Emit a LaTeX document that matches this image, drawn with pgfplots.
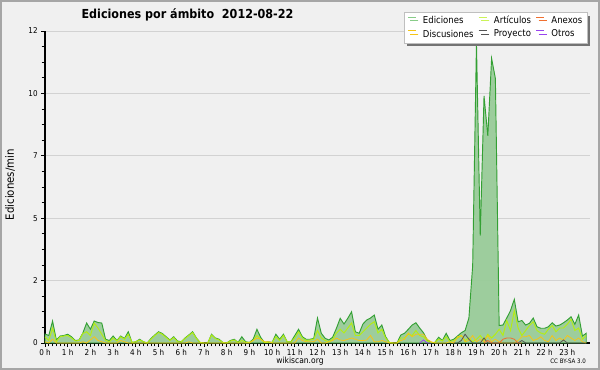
\documentclass[border=0pt]{standalone}
\usepackage{fontspec}
\setmainfont{DejaVu Sans}[FakeStretch=0.9]
\usepackage{pgfplots}
\usepackage{pgfplotstable}
\pgfplotsset{compat=1.18}
\usetikzlibrary{shadows}
\definecolor{bgc}{HTML}{F0F0F0}
\definecolor{edline}{HTML}{33A033}
\definecolor{edfill}{HTML}{99CC99}
\definecolor{edleg}{HTML}{88CC88}
\definecolor{artc}{HTML}{B5EE11}
\definecolor{discc}{HTML}{F5C518}
\definecolor{proyc}{HTML}{555555}
\definecolor{anexc}{HTML}{F07030}
\definecolor{otrosc}{HTML}{9944EE}

\pgfplotstableread{
i ed art
0 0.36 0.25
1 0.30 0.10
2 0.88 0.60
3 0.12 0.05
4 0.28 0.25
5 0.30 0.28
6 0.35 0.30
7 0.25 0.20
8 0.10 0.08
9 0.12 0.10
10 0.40 0.38
11 0.80 0.45
12 0.55 0.30
13 0.88 0.80
14 0.82 0.60
15 0.80 0.35
16 0.15 0.10
17 0.10 0.05
18 0.28 0.20
19 0.10 0.08
20 0.28 0.25
21 0.18 0.15
22 0.45 0.35
23 0.02 0.02
24 0.05 0.05
25 0.15 0.12
26 0.05 0.05
27 0.00 0.00
28 0.18 0.15
29 0.32 0.30
30 0.45 0.42
31 0.38 0.35
32 0.25 0.22
33 0.12 0.10
34 0.25 0.22
35 0.08 0.05
36 0.05 0.05
37 0.20 0.18
38 0.32 0.30
39 0.45 0.42
40 0.20 0.18
41 0.02 0.02
42 0.00 0.00
43 0.00 0.00
44 0.35 0.32
45 0.20 0.18
46 0.15 0.12
47 0.02 0.02
48 0.00 0.00
49 0.10 0.08
50 0.15 0.12
51 0.02 0.02
52 0.25 0.10
53 0.05 0.03
54 0.02 0.02
55 0.15 0.10
56 0.55 0.30
57 0.22 0.15
58 0.02 0.02
59 0.05 0.03
60 0.02 0.02
61 0.35 0.25
62 0.15 0.10
63 0.35 0.30
64 0.05 0.05
65 0.05 0.05
66 0.30 0.20
67 0.55 0.45
68 0.25 0.20
69 0.15 0.10
70 0.15 0.12
71 0.18 0.15
72 1.00 0.50
73 0.39 0.20
74 0.19 0.10
75 0.12 0.05
76 0.23 0.15
77 0.59 0.40
78 0.99 0.55
79 0.76 0.40
80 0.99 0.60
81 1.25 0.80
82 0.45 0.30
83 0.39 0.30
84 0.76 0.45
85 0.92 0.60
86 1.00 0.75
87 1.12 0.85
88 0.55 0.40
89 0.72 0.55
90 0.25 0.20
91 0.02 0.02
92 0.00 0.00
93 0.00 0.00
94 0.32 0.20
95 0.39 0.20
96 0.55 0.35
97 0.72 0.30
98 0.81 0.50
99 0.60 0.30
100 0.41 0.25
101 0.12 0.08
102 0.02 0.02
103 0.02 0.02
104 0.23 0.15
105 0.10 0.08
106 0.39 0.25
107 0.10 0.05
108 0.15 0.10
109 0.28 0.20
110 0.41 0.30
111 0.50 0.10
112 1.00 0.20
113 3.10 0.05
114 12.00 0.15
115 4.30 0.30
116 9.90 0.10
117 8.30 0.35
118 11.40 0.20
119 10.60 0.35
120 0.70 0.55
121 0.72 0.30
122 1.00 0.90
123 1.30 0.50
124 1.75 1.30
125 0.85 0.60
126 0.90 0.30
127 0.72 0.50
128 0.79 0.70
129 1.00 0.85
130 0.65 0.50
131 0.59 0.40
132 0.59 0.35
133 0.65 0.55
134 0.81 0.70
135 0.68 0.45
136 0.72 0.60
137 0.81 0.60
138 0.92 0.75
139 1.05 0.95
140 0.75 0.50
141 1.12 0.60
142 0.28 0.15
143 0.39 0.30
}\mytable

\begin{document}
\begin{tikzpicture}
\fill[bgc] (0,0) rectangle (450pt,277.5pt);
\draw[gray!70, line width=1.2pt] (0.6pt,0.6pt) rectangle (449.4pt,276.9pt);
\begin{axis}[
  at={(33.75pt,20.25pt)}, anchor=south west,
  scale only axis, width=408.75pt, height=234pt,
  xmin=0, xmax=144, ymin=0, ymax=12.5,
  axis x line=bottom, axis y line=left,
  axis line style={-, black, line width=0.8pt},
  xtick={0,6,...,138},
  xticklabels={0 h,1 h,2 h,3 h,4 h,5 h,6 h,7 h,8 h,9 h,10 h,11 h,12 h,13 h,14 h,15 h,16 h,17 h,18 h,19 h,20 h,21 h,22 h,23 h},
  ytick={0,2.5,...,12.5},
  yticklabels={0,2,5,7,10,12},
  minor x tick num=5, minor y tick num=3,
  tick align=outside,
  major tick length=3pt, minor tick length=2.5pt,
  tick style={black, line width=0.6pt},
  ymajorgrids, major grid style={gray!35, line width=0.6pt},
  tick label style={font=\fontsize{6}{7}\selectfont},
  xticklabel style={yshift=1.5pt},
  yticklabel style={xshift=1pt},
  /pgf/number format/assume math mode=true,
  legend columns=3,
  legend style={at={(0.996,1.0609)}, anchor=north east,
    draw=gray!50, fill=white, font=\fontsize{7.1}{8}\selectfont,
    drop shadow={shadow xshift=2pt, shadow yshift=-2.5pt, fill=gray!90!black, opacity=1},
    inner xsep=2pt, inner ysep=1pt, row sep=-1pt,
    /tikz/every even column/.append style={column sep=1.5pt}},
  legend cell align=left,
  legend image code/.code={\draw[#1] (0pt,2.6pt) -- (6pt,2.6pt); \path (9pt,2.6pt);},
  clip=false,
]
\addplot[fill=edfill, fill opacity=0.95, draw=edline, line width=0.7pt, forget plot] table[x=i, y=ed] {\mytable} \closedcycle;
\addplot[artc, line width=0.7pt, forget plot] table[x=i, y=art] {\mytable};
\addplot[discc, line width=0.6pt, forget plot] coordinates {(0,0.05)(1,0)(2,0.15)(3,0)(9,0)(10,0.05)(11,0)(13,0.25)(14,0.1)(15,0.05)(16,0)(19,0)(20,0.1)(21,0.05)(22,0)(37,0)(38,0.05)(39,0)(54,0)(55,0.1)(56,0.2)(57,0.15)(58,0.05)(59,0.05)(60,0)(66,0)(67,0.2)(68,0.1)(69,0.05)(71,0.05)(72,0.15)(73,0)(74,0)(75,0.05)(76,0.1)(77,0.2)(78,0.12)(79,0.1)(81,0.2)(82,0.15)(83,0.1)(84,0.1)(85,0.12)(86,0.3)(87,0.05)(88,0.05)(89,0.1)(90,0.05)(91,0)(93,0)(94,0.1)(95,0.15)(96,0.4)(97,0.25)(98,0.35)(99,0.35)(100,0.35)(101,0.15)(102,0.05)(103,0)(106,0)(107,0.05)(108,0)(109,0.25)(110,0.3)(111,0.05)(112,0.1)(113,0.3)(114,0.05)(115,0.15)(116,0.05)(117,0.3)(118,0.05)(119,0.15)(120,0.05)(121,0)(124,0)(125,0.1)(126,0.25)(127,0.25)(128,0.3)(129,0.1)(130,0.15)(131,0.25)(132,0.1)(133,0.05)(134,0.3)(135,0.1)(136,0.2)(137,0.1)(138,0.3)(139,0.2)(140,0.1)(141,0.2)(142,0.05)(143,0)};
\addplot[proyc, line width=0.6pt, forget plot] coordinates {(108,0)(109,0)(110,0.1)(111,0.35)(112,0.15)(113,0)(115,0)(116,0.2)(117,0)(125,0)(126,0.1)(127,0)(136,0)(137,0.12)(138,0)(143,0)};
\addplot[anexc, line width=0.6pt, forget plot] coordinates {(116,0)(117,0.1)(118,0)(120,0)(121,0.15)(122,0.2)(123,0.2)(124,0.15)(125,0)(126,0)};
\addplot[otrosc, line width=0.6pt, forget plot] coordinates {(99,0)(100,0.12)(101,0)(102,0)};
\addlegendimage{edleg, line width=0.8pt}\addlegendentry{Ediciones}
\addlegendimage{artc!70!white, line width=0.8pt}\addlegendentry{Artículos}
\addlegendimage{anexc, line width=0.8pt}\addlegendentry{Anexos}
\addlegendimage{discc, line width=0.8pt}\addlegendentry{Discusiones}
\addlegendimage{proyc, line width=0.8pt}\addlegendentry{Proyecto}
\addlegendimage{otrosc, line width=0.8pt}\addlegendentry{Otros}
\end{axis}
\node[font=\bfseries\fontsize{9.3}{11}\selectfont] at (140.6pt,266.5pt) {Ediciones por ámbito\ \ 2012-08-22};
\node[rotate=90, font=\fontsize{8.5}{9}\selectfont] at (7.5pt,139pt) {Ediciones/min};
\node[font=\fontsize{6.3}{7}\selectfont] at (225pt,6.5pt) {wikiscan.org};
\node[font=\fontsize{4.6}{5}\selectfont, anchor=east] at (443pt,6.5pt) {CC BY-SA 3.0};
\end{tikzpicture}
\end{document}
